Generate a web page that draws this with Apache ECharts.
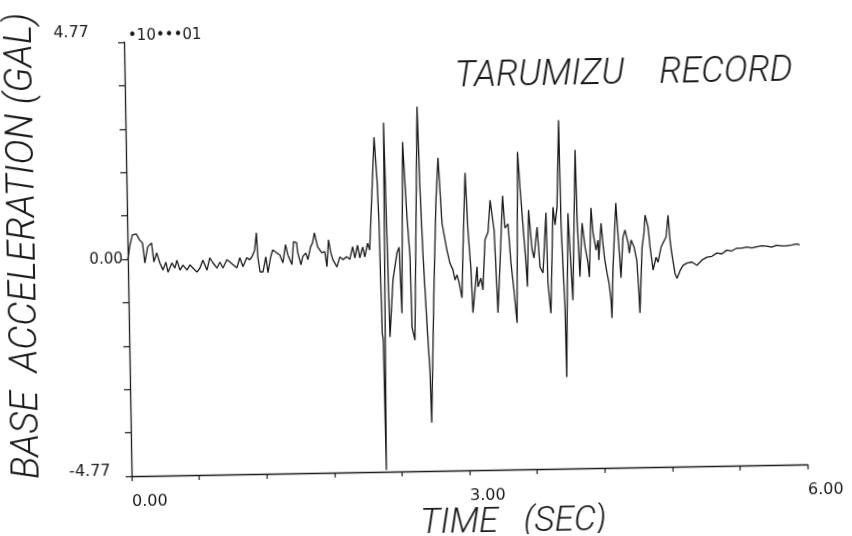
<!DOCTYPE html>
<html><head><meta charset="utf-8">
<script src="https://cdn.jsdelivr.net/npm/echarts@6/dist/echarts.min.js"></script>
<style>
html,body{margin:0;padding:0;background:#fff;overflow:hidden}
#chart{width:852px;height:536px;transform:rotate(-1deg);transform-origin:50% 50%}
</style>
</head><body><div id="chart"></div>
<script>
// time (sec)
const timeSec = [
0.000,0.018,0.044,0.080,0.107,0.133,0.151,0.178,0.213,0.231,0.257,0.284,0.311,0.337,0.355,0.391,0.417,0.435,0.462,0.488,
0.524,0.550,0.577,0.612,0.639,0.666,0.701,0.728,0.754,0.790,0.817,0.843,0.879,0.905,0.932,0.967,0.994,1.021,1.056,1.080,
1.101,1.127,1.145,1.154,1.172,1.198,1.225,1.242,1.269,1.287,1.323,1.349,1.376,1.402,1.420,1.456,1.473,1.500,1.509,1.536,
1.553,1.580,1.598,1.624,1.642,1.660,1.686,1.722,1.749,1.766,1.784,1.802,1.820,1.855,1.882,1.908,1.944,1.970,1.997,2.015,
2.041,2.059,2.086,2.104,2.130,2.148,2.178,2.204,2.224,2.235,2.242,2.247,2.255,2.262,2.290,2.315,2.350,2.390,2.409,2.425,
2.456,2.484,2.505,2.512,2.536,2.590,2.604,2.621,2.645,2.665,2.672,2.712,2.744,2.768,2.794,2.833,2.858,2.884,2.901,2.919,
2.936,2.960,2.976,3.006,3.023,3.044,3.055,3.098,3.104,3.131,3.147,3.173,3.201,3.224,3.255,3.272,3.277,3.302,3.335,3.352,
3.380,3.399,3.422,3.445,3.475,3.491,3.512,3.532,3.543,3.564,3.589,3.605,3.637,3.657,3.683,3.718,3.725,3.747,3.781,3.797,
3.817,3.844,3.850,3.860,3.873,3.877,3.913,3.926,3.944,3.986,3.993,4.010,4.037,4.060,4.082,4.094,4.118,4.133,4.157,4.176,
4.180,4.205,4.220,4.233,4.251,4.267,4.282,4.288,4.305,4.339,4.347,4.365,4.374,4.398,4.417,4.442,4.452,4.469,4.495,4.517,
4.529,4.537,4.566,4.585,4.597,4.622,4.637,4.660,4.688,4.705,4.734,4.752,4.780,4.801,4.815,4.828,4.854,4.871,4.900,4.926,
4.962,5.006,5.050,5.095,5.139,5.184,5.228,5.272,5.317,5.361,5.406,5.450,5.494,5.539,5.583,5.627,5.672,5.716,5.760,5.805,
5.849,5.894,5.938,5.965
];
// base acceleration (x10 gal)
const accel = [
-0.02,0.27,0.53,0.55,0.42,0.35,-0.09,0.26,0.35,-0.07,0.13,-0.10,-0.25,-0.08,-0.30,-0.10,-0.21,-0.04,-0.26,-0.15,
-0.26,-0.15,-0.22,-0.31,-0.22,-0.05,-0.27,0.00,-0.11,-0.23,-0.10,-0.23,-0.05,-0.10,-0.16,-0.23,-0.01,-0.21,-0.01,-0.06,
0.00,0.15,0.53,0.00,-0.33,-0.33,0.00,-0.35,0.00,0.15,0.08,0.04,-0.14,0.26,0.04,-0.18,0.32,0.30,0.08,-0.19,
-0.01,0.07,-0.08,0.20,0.29,0.51,0.20,0.07,0.09,-0.24,0.35,0.07,-0.09,-0.25,-0.03,-0.09,-0.03,-0.09,0.19,-0.06,
0.22,-0.06,0.18,-0.04,0.26,0.11,1.43,2.59,1.65,0.70,-0.77,-1.72,-1.87,-4.73,2.90,-1.81,-0.56,0.04,0.16,-1.29,
2.47,0.82,-0.06,-1.60,-1.89,3.24,1.41,-0.06,-1.52,-2.62,-3.71,-0.79,1.18,2.11,0.67,0.08,-0.21,-0.36,-0.58,-0.47,
-0.63,-0.98,0.07,1.77,0.51,-0.37,-1.31,-0.30,-0.74,-0.55,-0.81,0.29,0.46,1.16,0.50,-0.84,-1.32,-0.27,1.25,0.54,
0.63,-0.21,-0.82,-1.55,2.21,1.44,0.60,-0.21,-0.76,0.93,0.05,-0.13,0.55,-0.33,-0.46,0.86,-0.68,-1.35,0.98,0.59,
0.98,2.89,0.63,-0.25,-1.22,-2.76,0.84,0.03,-1.07,2.23,0.75,-0.56,0.62,0.09,-0.24,-0.57,0.95,0.40,0.02,0.24,
-0.20,0.61,0.13,-0.20,-0.49,-0.71,-1.08,-1.48,-0.36,1.05,0.67,-0.14,-0.60,0.30,0.45,0.16,-0.06,0.23,0.07,-0.22,
-0.81,-1.38,0.07,0.38,0.77,0.51,0.06,-0.44,-0.16,-0.27,0.06,0.15,0.28,0.76,0.21,-0.08,-0.52,-0.63,-0.46,-0.35,
-0.30,-0.28,-0.35,-0.24,-0.18,-0.16,-0.09,-0.11,-0.03,-0.05,0.01,0.01,0.03,0.01,0.03,0.05,0.04,0.02,0.06,0.04,
0.04,0.06,0.08,0.06
];
const xLabelValues = [0, 3, 6];
const xLabelTexts = ['0.00', '3.00', '6.00'];
const yLabelValues = [4.77, 0, -4.77];
const yLabelTexts = ['4.77', '0.00', '-4.77'];
const yLabelStyles = ['top', 'mid', 'bot'];
const titleText = 'TARUMIZU    RECORD';
const scaleText = '\u202210\u2022\u2022\u202201';
const xName = 'TIME   (SEC)';
const yName = 'BASE  ACCELERATION (GAL)';

const ink = '#1a1a1a';
const fam = 'Roboto, "DejaVu Sans", sans-serif';
const lab = '"DejaVu Sans", sans-serif';
const chart = echarts.init(document.getElementById('chart'), null, {renderer: 'canvas'});
const seriesData = timeSec.map((t, i) => [t, accel[i]]);
function pick(vals, v) {
  for (let i = 0; i < vals.length; i++) if (Math.abs(v - vals[i]) < 1e-6) return i;
  return -1;
}
chart.setOption({
  animation: false,
  backgroundColor: '#fff',
  title: [
    {text: titleText, left: 453, top: 55,
     textStyle: {fontFamily: fam, fontStyle: 'italic', fontWeight: 300, fontSize: 36, color: ink}},
    {text: scaleText, left: 127, top: 19,
     textStyle: {fontFamily: lab, fontWeight: 'normal', fontSize: 15, color: ink}}
  ],
  grid: {left: 128, right: 48, top: 37, bottom: 65, containLabel: false, outerBoundsMode: 'none'},
  xAxis: {
    type: 'value', min: 0, max: 6, interval: 0.6,
    name: xName, nameLocation: 'middle', nameGap: 36, nameMoveOverlap: false,
    nameTextStyle: {fontFamily: fam, fontStyle: 'italic', fontWeight: 300, fontSize: 35, color: ink, padding: [0, 0, 0, 86]},
    axisLine: {show: true, onZero: false, lineStyle: {color: ink, width: 1.3}},
    axisTick: {show: true, length: 5, lineStyle: {color: ink, width: 1.2}},
    splitLine: {show: false},
    axisLabel: {
      show: true, margin: 18, align: 'left', fontFamily: lab, fontSize: 16, color: ink,
      formatter: v => { const i = pick(xLabelValues, v); return i >= 0 ? xLabelTexts[i] : ''; }
    }
  },
  yAxis: {
    type: 'value', min: -4.77, max: 4.77, interval: 0.954,
    name: yName, nameLocation: 'middle', nameRotate: 90, nameGap: 84, nameMoveOverlap: false,
    nameTextStyle: {fontFamily: fam, fontStyle: 'italic', fontWeight: 300, fontSize: 38, color: ink, padding: [0, 0, 0, 30]},
    axisLine: {show: true, onZero: false, lineStyle: {color: ink, width: 1.3}},
    axisTick: {show: true, length: 6, lineStyle: {color: ink, width: 1.2}},
    splitLine: {show: false},
    axisLabel: {
      show: true, margin: 5, fontFamily: lab, fontSize: 15, color: ink,
      formatter: v => { const i = pick(yLabelValues, v); return i >= 0 ? '{' + yLabelStyles[i] + '|' + yLabelTexts[i] + '}' : ''; },
      rich: {
        top: {fontFamily: lab, fontSize: 16, color: ink, padding: [0, 30, 20, 0]},
        mid: {fontFamily: lab, fontSize: 15, color: ink, padding: [0, 0, 0, 0]},
        bot: {fontFamily: lab, fontSize: 16, color: ink, padding: [0, 16, 10, 0]}
      }
    }
  },
  series: [{
    type: 'line', data: seriesData, showSymbol: false, symbol: 'none', smooth: false,
    lineStyle: {color: ink, width: 1.3}, clip: false
  }]
});
</script>
</body></html>
